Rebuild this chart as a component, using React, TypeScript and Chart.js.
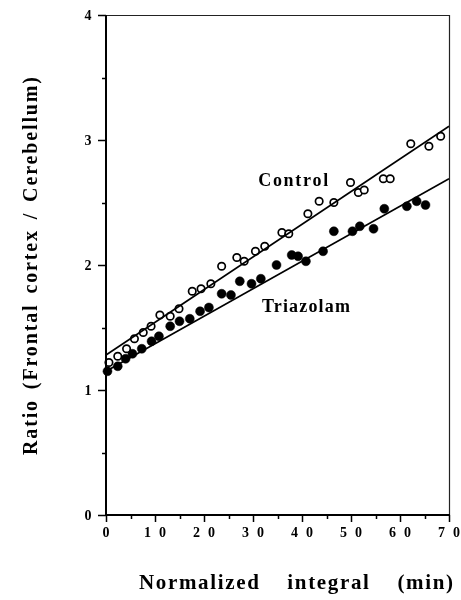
import { useEffect, useRef } from "react";
import { Chart, registerables } from "chart.js";

Chart.register(...registerables);

const controlX = [0.6, 2.4, 4.2, 5.8, 7.6, 9.2, 11.0, 13.1, 14.9, 17.6, 19.4, 21.4, 23.6, 26.7, 28.2, 30.5, 32.4, 35.9, 37.3, 41.2, 43.5, 46.5, 49.9, 51.5, 52.7, 56.6, 58.0, 62.2, 65.9, 68.3];
const controlY = [1.22, 1.27, 1.33, 1.41, 1.46, 1.51, 1.60, 1.59, 1.65, 1.79, 1.81, 1.85, 1.99, 2.06, 2.03, 2.11, 2.15, 2.26, 2.25, 2.41, 2.51, 2.50, 2.66, 2.58, 2.60, 2.69, 2.69, 2.97, 2.95, 3.03];

const triazolamX = [0.3, 2.4, 4.0, 5.4, 7.3, 9.3, 10.8, 13.1, 15.0, 17.1, 19.2, 21.0, 23.6, 25.5, 27.3, 29.7, 31.6, 34.8, 37.9, 39.2, 40.8, 44.3, 46.5, 50.3, 51.8, 54.6, 56.8, 61.4, 63.4, 65.2];
const triazolamY = [1.15, 1.19, 1.25, 1.29, 1.33, 1.39, 1.43, 1.51, 1.55, 1.57, 1.63, 1.66, 1.77, 1.76, 1.87, 1.85, 1.89, 2.00, 2.08, 2.07, 2.03, 2.11, 2.27, 2.27, 2.31, 2.29, 2.45, 2.47, 2.51, 2.48];

const fitX = [0, 70];
const controlFitY = [1.28, 3.11];
const triazolamFitY = [1.15, 2.69];

const xMajorTicks = [0, 10, 20, 30, 40, 50, 60, 70];
const xMinorTicks = [5, 15, 25, 35, 45, 55, 65];
const yMajorTicks = [0, 1, 2, 3, 4];
const yMinorTicks = [0.5, 1.5, 2.5, 3.5];

const seriesNames = ["Control", "Triazolam"];
const seriesLabelAt = [
  { x: 38.2, y: 2.632 },
  { x: 40.8, y: 1.628 },
];

const xTitle = "Normalized integral (min)";
const yTitle = "Ratio (Frontal cortex / Cerebellum)";

const SERIF = '"Liberation Serif", "DejaVu Serif", serif';

function fitText(ctx: CanvasRenderingContext2D, text: string, cx: number, cy: number, target: number) {
  (ctx as any).letterSpacing = "0px";
  const w = ctx.measureText(text).width;
  const ls = text.length > 1 ? (target - w) / (text.length - 1) : 0;
  (ctx as any).letterSpacing = ls + "px";
  ctx.textAlign = "left";
  ctx.fillText(text, cx - target / 2, cy);
  (ctx as any).letterSpacing = "0px";
}

// words stretched (letter spacing) to wordsTotal, gaps fill up to total
function fitTitle(ctx: CanvasRenderingContext2D, text: string, cx: number, cy: number, total: number, wordsTotal: number) {
  (ctx as any).letterSpacing = "0px";
  const words = text.split(" ");
  const widths = words.map((w) => ctx.measureText(w).width);
  const nat = widths.reduce((a, b) => a + b, 0);
  const nGaps = words.reduce((a, w) => a + Math.max(0, w.length - 1), 0);
  const ls = nGaps ? (wordsTotal - nat) / nGaps : 0;
  const gap = words.length > 1 ? (total - wordsTotal) / (words.length - 1) : 0;
  (ctx as any).letterSpacing = ls + "px";
  ctx.textAlign = "left";
  let x = cx - total / 2;
  words.forEach((w, i) => {
    ctx.fillText(w, x, cy);
    x += widths[i] + ls * Math.max(0, w.length - 1) + gap;
  });
  (ctx as any).letterSpacing = "0px";
}

const decorPlugin = {
  id: "decor",
  afterDraw(chart: any) {
    const ctx: CanvasRenderingContext2D = chart.ctx;
    const { left, right, top, bottom } = chart.chartArea;
    const xs = chart.scales.x;
    const ys = chart.scales.y;
    ctx.save();
    ctx.fillStyle = "#000";

    // thin top/right frame
    ctx.lineWidth = 1.2;
    ctx.strokeStyle = "#222";
    ctx.beginPath();
    ctx.moveTo(left, top + 0.5);
    ctx.lineTo(right, top + 0.5);
    ctx.moveTo(right + 0.5, top);
    ctx.lineTo(right + 0.5, bottom);
    ctx.stroke();

    // thick left/bottom axes
    ctx.strokeStyle = "#000";
    ctx.lineWidth = 2;
    ctx.beginPath();
    ctx.moveTo(left, top);
    ctx.lineTo(left, bottom);
    ctx.lineTo(right + 1, bottom);
    ctx.stroke();

    // ticks
    ctx.lineWidth = 1.5;
    ctx.beginPath();
    xMajorTicks.forEach((v) => {
      const p = Math.round(xs.getPixelForValue(v)) + 0.5;
      ctx.moveTo(p, bottom);
      ctx.lineTo(p, bottom + 7);
    });
    xMinorTicks.forEach((v) => {
      const p = Math.round(xs.getPixelForValue(v)) + 0.5;
      ctx.moveTo(p, bottom);
      ctx.lineTo(p, bottom + 4);
    });
    yMajorTicks.forEach((v) => {
      const p = Math.round(ys.getPixelForValue(v)) + 0.5;
      ctx.moveTo(left, p);
      ctx.lineTo(left - 8, p);
    });
    yMinorTicks.forEach((v) => {
      const p = Math.round(ys.getPixelForValue(v)) + 0.5;
      ctx.moveTo(left, p);
      ctx.lineTo(left - 4, p);
    });
    ctx.stroke();

    // tick labels
    ctx.font = `bold 14px ${SERIF}`;
    ctx.textBaseline = "middle";
    xMajorTicks.forEach((v) => {
      const p = xs.getPixelForValue(v);
      const s = String(v);
      if (s.length > 1) fitText(ctx, s, p, bottom + 18, 22);
      else {
        ctx.textAlign = "center";
        ctx.fillText(s, p, bottom + 18);
      }
    });
    yMajorTicks.forEach((v) => {
      const p = ys.getPixelForValue(v);
      ctx.textAlign = "center";
      ctx.fillText(String(v), left - 18, p + 1);
    });

    // series labels
    ctx.font = `bold 18px ${SERIF}`;
    ctx.textBaseline = "alphabetic";
    fitText(ctx, seriesNames[0], xs.getPixelForValue(seriesLabelAt[0].x), ys.getPixelForValue(seriesLabelAt[0].y), 70);
    fitText(ctx, seriesNames[1], xs.getPixelForValue(seriesLabelAt[1].x), ys.getPixelForValue(seriesLabelAt[1].y), 88);

    // axis titles
    ctx.font = `bold 21px ${SERIF}`;
    ctx.textBaseline = "alphabetic";
    fitTitle(ctx, xTitle, 296, 589, 314, 257);
    ctx.font = `bold 20px ${SERIF}`;
    ctx.save();
    ctx.translate(37, 266);
    ctx.rotate(-Math.PI / 2);
    fitTitle(ctx, yTitle, 0, 0, 378, 331);
    ctx.restore();

    ctx.restore();
  },
};

export default function App() {
  const ref = useRef<HTMLCanvasElement | null>(null);

  useEffect(() => {
    if (!ref.current) return;
    const pts = (xs: number[], ys: number[]) => xs.map((x, i) => ({ x, y: ys[i] }));
    const chart = new Chart(ref.current, {
      type: "scatter",
      data: {
        datasets: [
          {
            label: "Control fit",
            data: pts(fitX, controlFitY),
            showLine: true,
            borderColor: "#000",
            borderWidth: 1.6,
            pointRadius: 0,
            clip: false,
          } as any,
          {
            label: "Triazolam fit",
            data: pts(fitX, triazolamFitY),
            showLine: true,
            borderColor: "#000",
            borderWidth: 1.6,
            pointRadius: 0,
            clip: false,
          } as any,
          {
            label: seriesNames[0],
            data: pts(controlX, controlY),
            pointStyle: "circle",
            pointRadius: 3.7,
            pointBackgroundColor: "#fff",
            pointBorderColor: "#000",
            pointBorderWidth: 1.7,
            clip: false,
          } as any,
          {
            label: seriesNames[1],
            data: pts(triazolamX, triazolamY),
            pointStyle: "circle",
            pointRadius: 4.5,
            pointBackgroundColor: "#000",
            pointBorderColor: "#000",
            pointBorderWidth: 0.5,
            clip: false,
          } as any,
        ],
      },
      options: {
        responsive: false,
        animation: false,
        events: [],
        layout: { padding: { top: 15, right: 12, left: 0, bottom: 0 } },
        plugins: { legend: { display: false }, tooltip: { enabled: false } },
        scales: {
          x: {
            type: "linear",
            min: 0,
            max: 70,
            ticks: { display: false },
            grid: { display: false },
            border: { display: false },
            afterFit: (s: any) => {
              s.height = 85;
            },
          },
          y: {
            type: "linear",
            min: 0,
            max: 4,
            ticks: { display: false },
            grid: { display: false },
            border: { display: false },
            afterFit: (s: any) => {
              s.width = 106;
            },
          },
        },
      } as any,
      plugins: [decorPlugin],
    });
    return () => chart.destroy();
  }, []);

  return (
    <div style={{ position: "absolute", left: 0, top: 0, width: 461, height: 600, background: "#fff" }}>
      <canvas ref={ref} width={461} height={600} style={{ display: "block" }} />
    </div>
  );
}
